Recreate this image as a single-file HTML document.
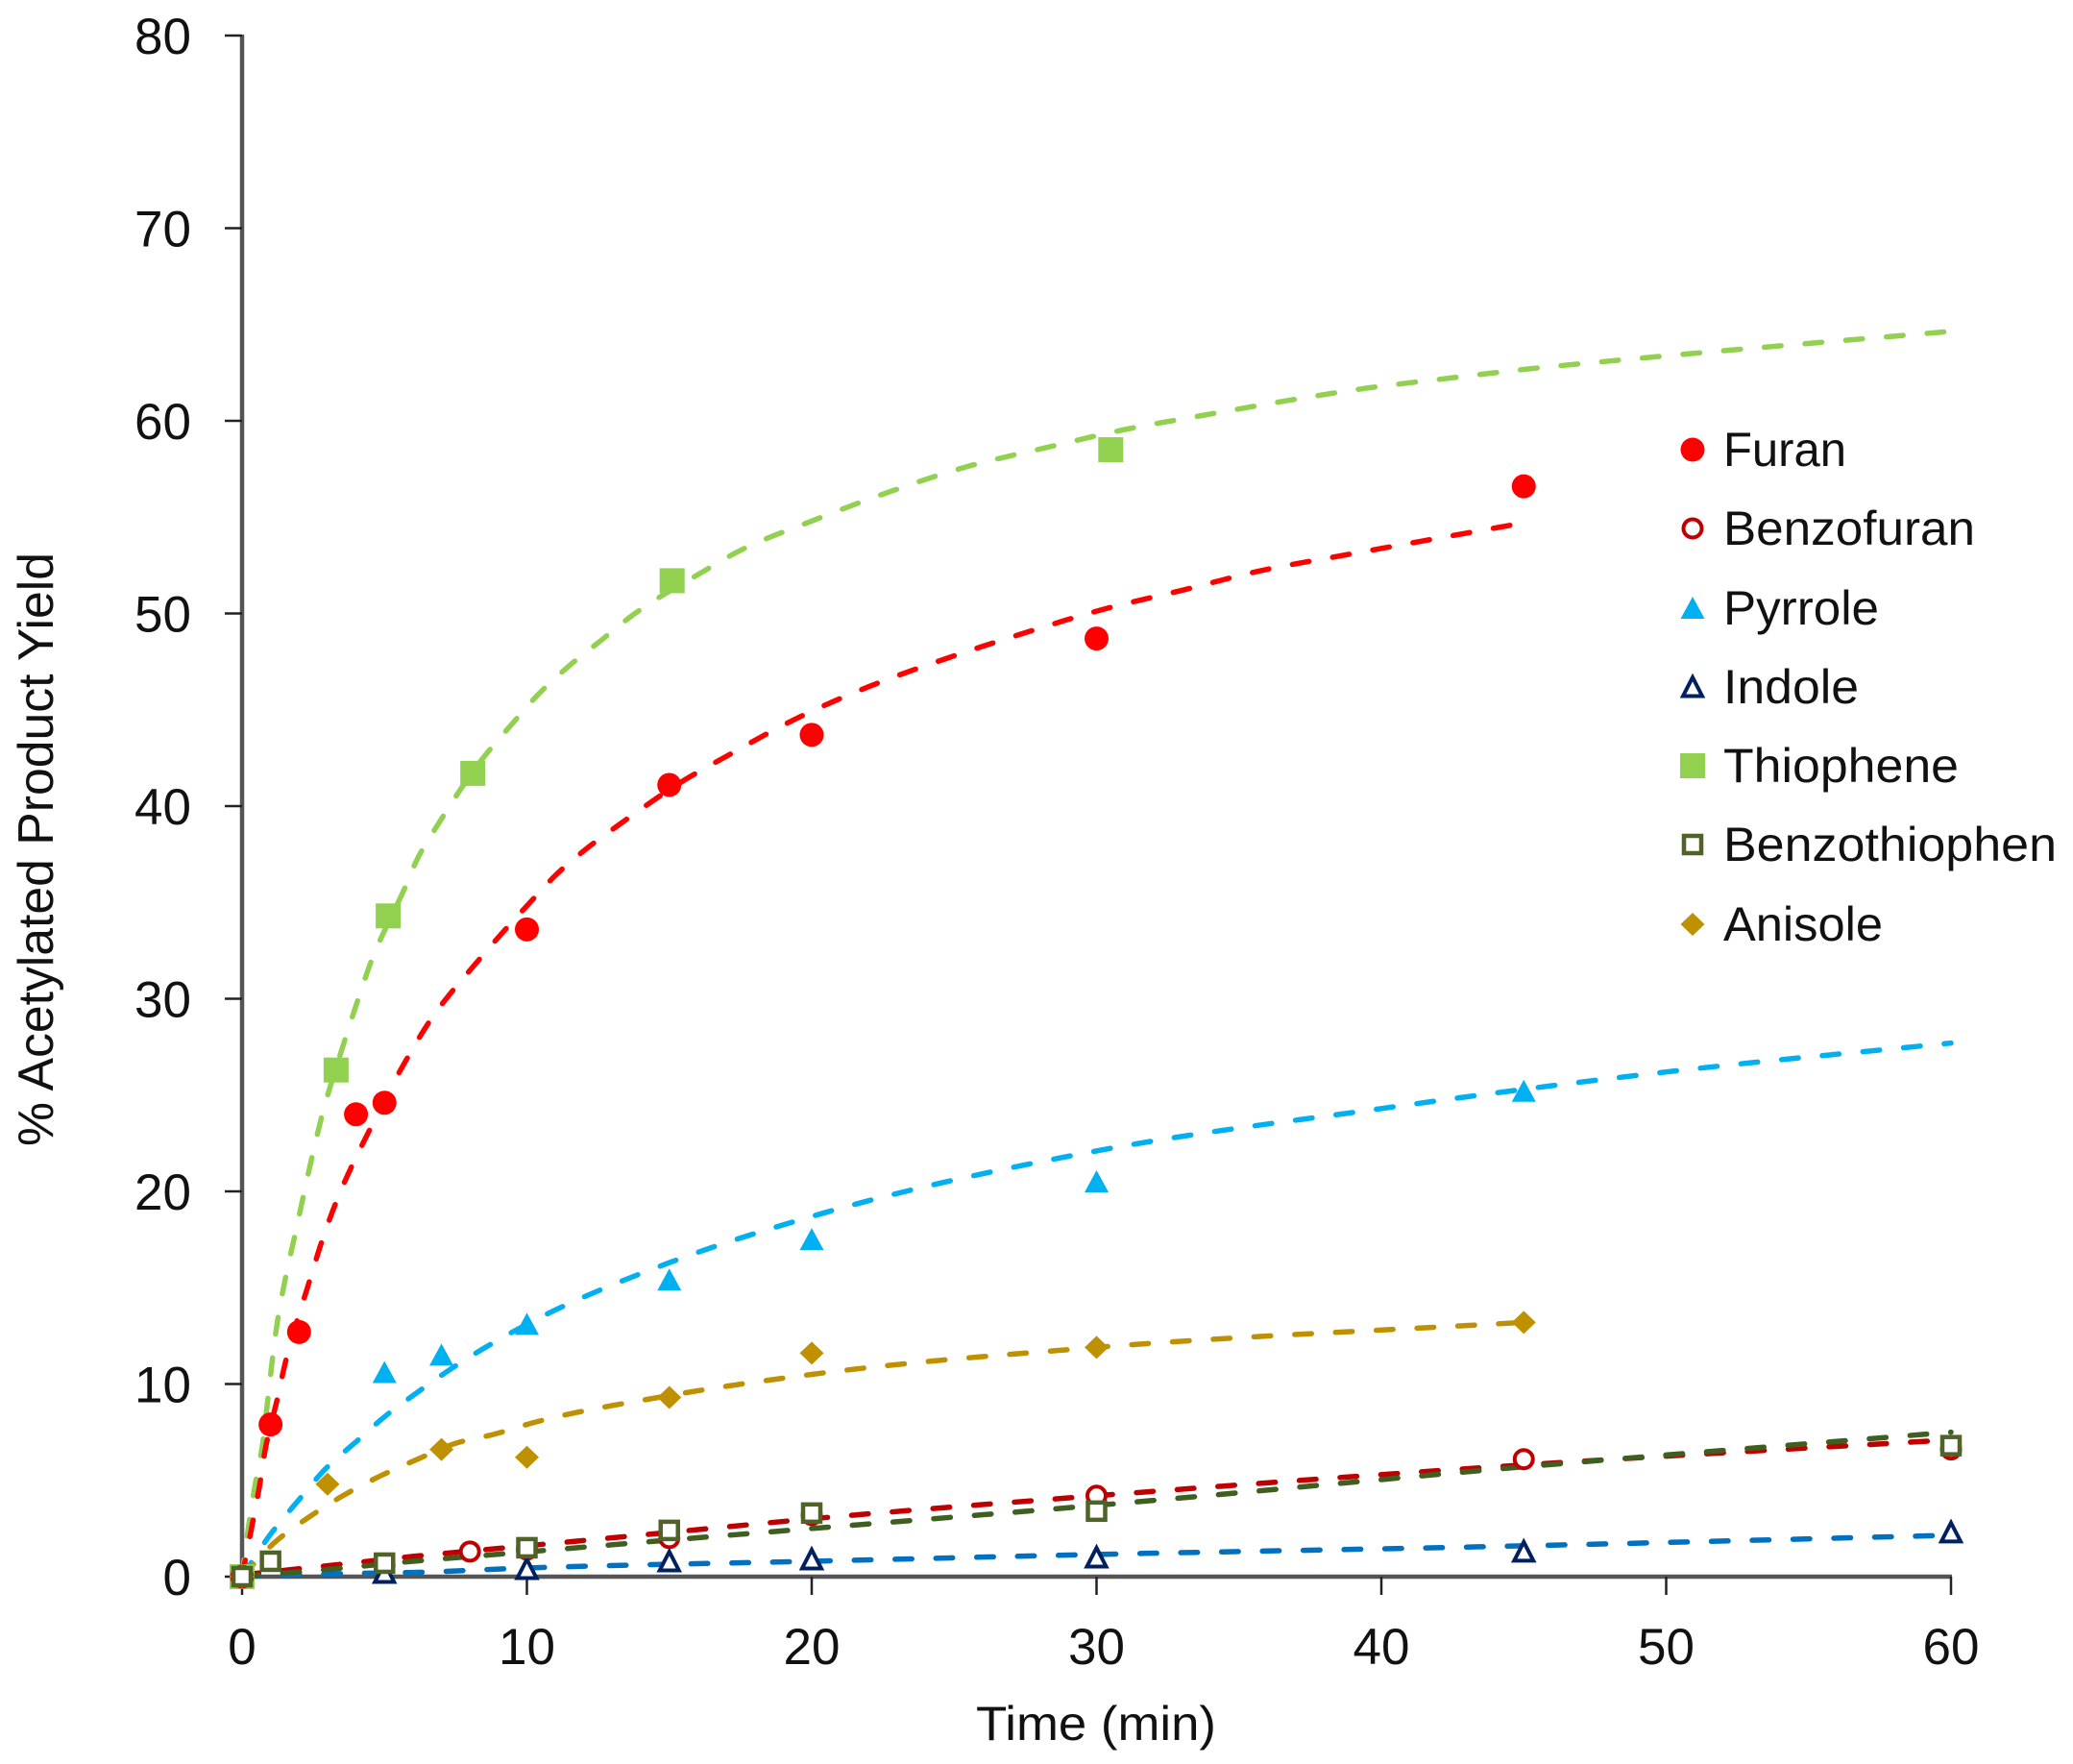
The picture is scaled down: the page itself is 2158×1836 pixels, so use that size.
<!DOCTYPE html>
<html lang="en">
<head>
<meta charset="utf-8">
<title>Acetylated product yield over time</title>
<style>
html,body{margin:0;padding:0;background:#fff;}
svg{display:block;}
text{font-family:"Liberation Sans",sans-serif;fill:#111;}
</style>
</head>
<body>
<svg id="chart" xmlns="http://www.w3.org/2000/svg" width="2158" height="1836" viewBox="0 0 2158 1836">
  <g id="axes"></g>
  <g id="fits"></g>
  <g id="marks"></g>
  <g id="legend"></g>
  <text x="55" y="884" transform="rotate(-90 55 884)" text-anchor="middle" font-size="52" textLength="618" lengthAdjust="spacingAndGlyphs">% Acetylated Product Yield</text>
  <text x="1141" y="1811" text-anchor="middle" font-size="50" textLength="250" lengthAdjust="spacingAndGlyphs">Time (min)</text>
</svg>
<script>
const xTickLabels = [0, 10, 20, 30, 40, 50, 60];
const yTickLabels = [0, 10, 20, 30, 40, 50, 60, 70, 80];

const furanTimes = [0, 1, 2, 4, 5, 10, 15, 20, 30, 45];
const furanYields = [0, 7.9, 12.7, 24.0, 24.6, 33.6, 41.1, 43.7, 48.7, 56.6];
const furanFitTimes = [0, 0.33, 0.6, 0.84, 1.2, 1.55, 2.4, 2.8, 3.4, 4.55, 5.83, 6.57, 8.36, 10.3, 11, 12.1, 13.3, 15.7, 16.9, 19.4, 22, 24.8, 27.5, 30.2, 33, 35.7, 38.6, 41.4, 44.6];
const furanFitYields = [0, 2.5, 4.6, 6.8, 9.0, 11.3, 15.5, 17.4, 19.8, 23.4, 27, 28.8, 32.1, 35.3, 36.4, 37.8, 39.1, 41.5, 42.5, 44.5, 46.2, 47.7, 49, 50.2, 51.2, 52.2, 53, 53.75, 54.6];

const benzofuranTimes = [5, 8, 10, 15, 20, 30, 45, 60];
const benzofuranYields = [0.6, 1.3, 1.4, 2.0, 3.2, 4.2, 6.1, 6.6];
const benzofuranFitTimes = [0, 3.2, 6, 8.9, 10, 15, 20, 30, 45, 60];
const benzofuranFitYields = [0.1, 0.6, 1.05, 1.45, 1.6, 2.3, 3.0, 4.2, 5.8, 7.1];

const pyrroleTimes = [5, 7, 10, 15, 20, 30, 45];
const pyrroleYields = [10.6, 11.5, 13.1, 15.4, 17.5, 20.5, 25.2];
const pyrroleFitTimes = [0, 1, 2, 3, 4, 5, 6, 7.45, 10, 15, 20, 30, 40, 45, 50, 60];
const pyrroleFitYields = [0, 2.2, 4.0, 5.7, 7.0, 8.3, 9.4, 10.9, 13.1, 16.3, 18.7, 22.1, 24.3, 25.3, 26.2, 27.7];

const indoleTimes = [5, 10, 15, 20, 30, 45, 60];
const indoleYields = [0.2, 0.4, 0.8, 0.9, 1.0, 1.3, 2.3];
const indoleFitTimes = [0, 3.2, 6, 10, 20, 30, 45, 60];
const indoleFitYields = [0, 0.15, 0.22, 0.45, 0.8, 1.15, 1.6, 2.15];

const thiopheneTimes = [0, 3.3, 5.13, 8.1, 15.1, 30.5];
const thiopheneYields = [0, 26.3, 34.3, 41.7, 51.7, 58.5];
const thiopheneFitTimes = [0, 0.17, 0.44, 0.71, 0.88, 1.28, 1.55, 1.85, 2.46, 2.8, 3.64, 4.08, 4.55, 5.73, 6.17, 6.9, 8.57, 9.44, 10.4, 11.5, 12.6, 13.7, 16.1, 17.4, 20, 22.7, 25.4, 28.2, 31, 33.8, 36.7, 39.5, 42.3, 45.2, 48, 60];
const thiopheneFitYields = [0, 2, 4.6, 6.8, 8.9, 13.6, 15.7, 17.7, 21.8, 23.9, 28, 30, 32, 35.8, 37.3, 39.1, 42.7, 44.2, 45.8, 47.3, 48.6, 49.9, 52.1, 53.2, 54.8, 56.3, 57.6, 58.6, 59.55, 60.3, 61.05, 61.7, 62.2, 62.7, 63.1, 64.65];

const benzothiopheneTimes = [0, 1, 5, 10, 15, 20, 30, 60];
const benzothiopheneYields = [0, 0.8, 0.7, 1.5, 2.4, 3.3, 3.4, 6.8];
const benzothiopheneFitTimes = [0, 3.2, 6, 8.9, 15, 20, 30, 45, 60];
const benzothiopheneFitYields = [0, 0.4, 0.8, 1.15, 1.9, 2.5, 3.7, 5.7, 7.5];

const anisoleTimes = [0, 3, 7, 10, 15, 20, 30, 45];
const anisoleYields = [0, 4.8, 6.6, 6.2, 9.3, 11.6, 11.9, 13.2];
const anisoleFitTimes = [0, 1.2, 2.36, 3.54, 4.82, 6.17, 7.45, 8.87, 10, 15, 20, 30, 45];
const anisoleFitYields = [0, 1.85, 3.1, 4.2, 5.2, 6.1, 6.9, 7.4, 7.9, 9.4, 10.5, 11.9, 13.2];

const seriesNames = ['Furan', 'Benzofuran', 'Pyrrole', 'Indole', 'Thiophene', 'Benzothiophen', 'Anisole'];

const plotLeft = 252, plotPerMinute = 29.65, plotBase = 1641, plotPerPercent = 20.05;
function xAxis(t) { return plotLeft + plotPerMinute * t; }
function yAxis(v) { return plotBase - plotPerPercent * v; }

const NS = 'http://www.w3.org/2000/svg';
function make(tag, attrs, parent) {
  const el = document.createElementNS(NS, tag);
  for (const k in attrs) el.setAttribute(k, attrs[k]);
  parent.appendChild(el);
  return el;
}

const seriesList = [
  { key: 'thiophene', label: seriesNames[4], kind: 'square', color: '#92d050', fitColor: '#92d050', t: thiopheneTimes, v: thiopheneYields, ft: thiopheneFitTimes, fv: thiopheneFitYields, legendY: 797, legendW: 245 },
  { key: 'furan', label: seriesNames[0], kind: 'circle', color: '#ff0000', fitColor: '#ff0000', t: furanTimes, v: furanYields, ft: furanFitTimes, fv: furanFitYields, legendY: 468, legendW: 128 },
  { key: 'benzofuran', label: seriesNames[1], kind: 'open-circle', color: '#c00000', fitColor: '#c00000', t: benzofuranTimes, v: benzofuranYields, ft: benzofuranFitTimes, fv: benzofuranFitYields, legendY: 550, legendW: 262 },
  { key: 'pyrrole', label: seriesNames[2], kind: 'triangle', color: '#00b0f0', fitColor: '#00b0f0', t: pyrroleTimes, v: pyrroleYields, ft: pyrroleFitTimes, fv: pyrroleFitYields, legendY: 633, legendW: 162 },
  { key: 'indole', label: seriesNames[3], kind: 'open-triangle', color: '#002060', fitColor: '#0070c0', t: indoleTimes, v: indoleYields, ft: indoleFitTimes, fv: indoleFitYields, legendY: 715, legendW: 141 },
  { key: 'anisole', label: seriesNames[6], kind: 'diamond', color: '#bf9000', fitColor: '#bf9000', t: anisoleTimes, v: anisoleYields, ft: anisoleFitTimes, fv: anisoleFitYields, legendY: 962, legendW: 166 },
  { key: 'benzothiophene', label: seriesNames[5], kind: 'open-square', color: '#4f6228', fitColor: '#3f5f20', t: benzothiopheneTimes, v: benzothiopheneYields, ft: benzothiopheneFitTimes, fv: benzothiopheneFitYields, legendY: 879, legendW: 347 }
];

function smoothPath(ts, vs) {
  const p = ts.map((t, i) => [xAxis(t), yAxis(vs[i])]);
  const n = p.length;
  const seg = [];
  for (let i = 0; i < n - 1; i++) {
    const dx = p[i + 1][0] - p[i][0], dy = p[i + 1][1] - p[i][1];
    const len = Math.hypot(dx, dy) || 1;
    seg.push({ ux: dx / len, uy: dy / len, len: len });
  }
  const tan = p.map(function (_, i) {
    if (i === 0) return [seg[0].ux, seg[0].uy];
    if (i === n - 1) return [seg[n - 2].ux, seg[n - 2].uy];
    const a = seg[i - 1], b = seg[i];
    const tx = b.len * a.ux + a.len * b.ux, ty = b.len * a.uy + a.len * b.uy;
    const l = Math.hypot(tx, ty) || 1;
    return [tx / l, ty / l];
  });
  let d = 'M' + p[0][0].toFixed(1) + ' ' + p[0][1].toFixed(1);
  for (let i = 0; i < n - 1; i++) {
    const h = seg[i].len / 3;
    d += 'C' + (p[i][0] + tan[i][0] * h).toFixed(1) + ' ' + (p[i][1] + tan[i][1] * h).toFixed(1) + ' ' +
      (p[i + 1][0] - tan[i + 1][0] * h).toFixed(1) + ' ' + (p[i + 1][1] - tan[i + 1][1] * h).toFixed(1) + ' ' +
      p[i + 1][0].toFixed(1) + ' ' + p[i + 1][1].toFixed(1);
  }
  return d;
}

function drawMarker(kind, color, cx, cy, parent) {
  if (kind === 'circle') return make('circle', { cx: cx, cy: cy, r: 12.5, fill: color }, parent);
  if (kind === 'open-circle') return make('circle', { cx: cx, cy: cy, r: 9.5, fill: '#fff', stroke: color, 'stroke-width': 4 }, parent);
  if (kind === 'triangle') return make('polygon', { points: (cx - 12.5) + ',' + (cy + 11) + ' ' + cx + ',' + (cy - 12) + ' ' + (cx + 12.5) + ',' + (cy + 11), fill: color }, parent);
  if (kind === 'open-triangle') return make('polygon', { points: (cx - 10) + ',' + (cy + 9.5) + ' ' + cx + ',' + (cy - 10) + ' ' + (cx + 10) + ',' + (cy + 9.5), fill: '#fff', stroke: color, 'stroke-width': 4 }, parent);
  if (kind === 'square') return make('rect', { x: cx - 13, y: cy - 13, width: 26, height: 26, fill: color }, parent);
  if (kind === 'open-square') return make('rect', { x: cx - 9, y: cy - 9, width: 18, height: 18, fill: '#fff', stroke: color, 'stroke-width': 4.5 }, parent);
  return make('polygon', { points: (cx - 12.5) + ',' + cy + ' ' + cx + ',' + (cy - 12) + ' ' + (cx + 12.5) + ',' + cy + ' ' + cx + ',' + (cy + 12), fill: color }, parent);
}

const fitsGroup = document.getElementById('fits');
const axesGroup = document.getElementById('axes');
const marksGroup = document.getElementById('marks');
const legendGroup = document.getElementById('legend');

// fit lines
seriesList.forEach(function (s) {
  const fit = make('path', { d: smoothPath(s.ft, s.fv), fill: 'none', stroke: s.fitColor, 'stroke-width': 5.5, 'stroke-linecap': 'round', 'stroke-dasharray': '17.5 25' }, fitsGroup);
  
  
});

// axes
const yLine = make('line', { x1: xAxis(0), x2: xAxis(0), y1: yAxis(80) - 1, y2: yAxis(0) + 2, stroke: '#555', 'stroke-width': 4.5 }, axesGroup);


const xLine = make('line', { x1: xAxis(0) - 2, x2: xAxis(60) + 1, y1: yAxis(0), y2: yAxis(0), stroke: '#555', 'stroke-width': 4.5 }, axesGroup);



yTickLabels.forEach(function (v) {
  const tick = make('line', { x1: xAxis(0) - 18, x2: xAxis(0), y1: yAxis(v), y2: yAxis(v), stroke: '#222', 'stroke-width': 2.5 }, axesGroup);
  
  
  const lab = make('text', { x: 199, y: yAxis(v) + 19, 'text-anchor': 'end', 'font-size': 53 }, axesGroup);
  
  
  lab.textContent = v;
});
xTickLabels.forEach(function (t) {
  const tick = make('line', { x1: xAxis(t), x2: xAxis(t), y1: yAxis(0), y2: yAxis(0) + 19, stroke: '#222', 'stroke-width': 2.5 }, axesGroup);
  
  
  const lab = make('text', { x: xAxis(t), y: 1732, 'text-anchor': 'middle', 'font-size': 53 }, axesGroup);
  
  
  lab.textContent = t;
});

// data points
seriesList.forEach(function (s) {
  s.t.forEach(function (t, i) {
    const m = drawMarker(s.kind, s.color, xAxis(t), yAxis(s.v[i]), marksGroup);
    
    
  });
});

// legend
seriesList.forEach(function (s) {
  const entry = make('g', {}, legendGroup);
  
  
  const sym = drawMarker(s.kind, s.color, 1762, s.legendY, entry);
  
  
  const txt = make('text', { x: 1794, y: s.legendY + 17, 'font-size': 50, textLength: s.legendW, lengthAdjust: 'spacingAndGlyphs' }, entry);
  
  
  txt.textContent = s.label;
});
</script>
</body>
</html>
